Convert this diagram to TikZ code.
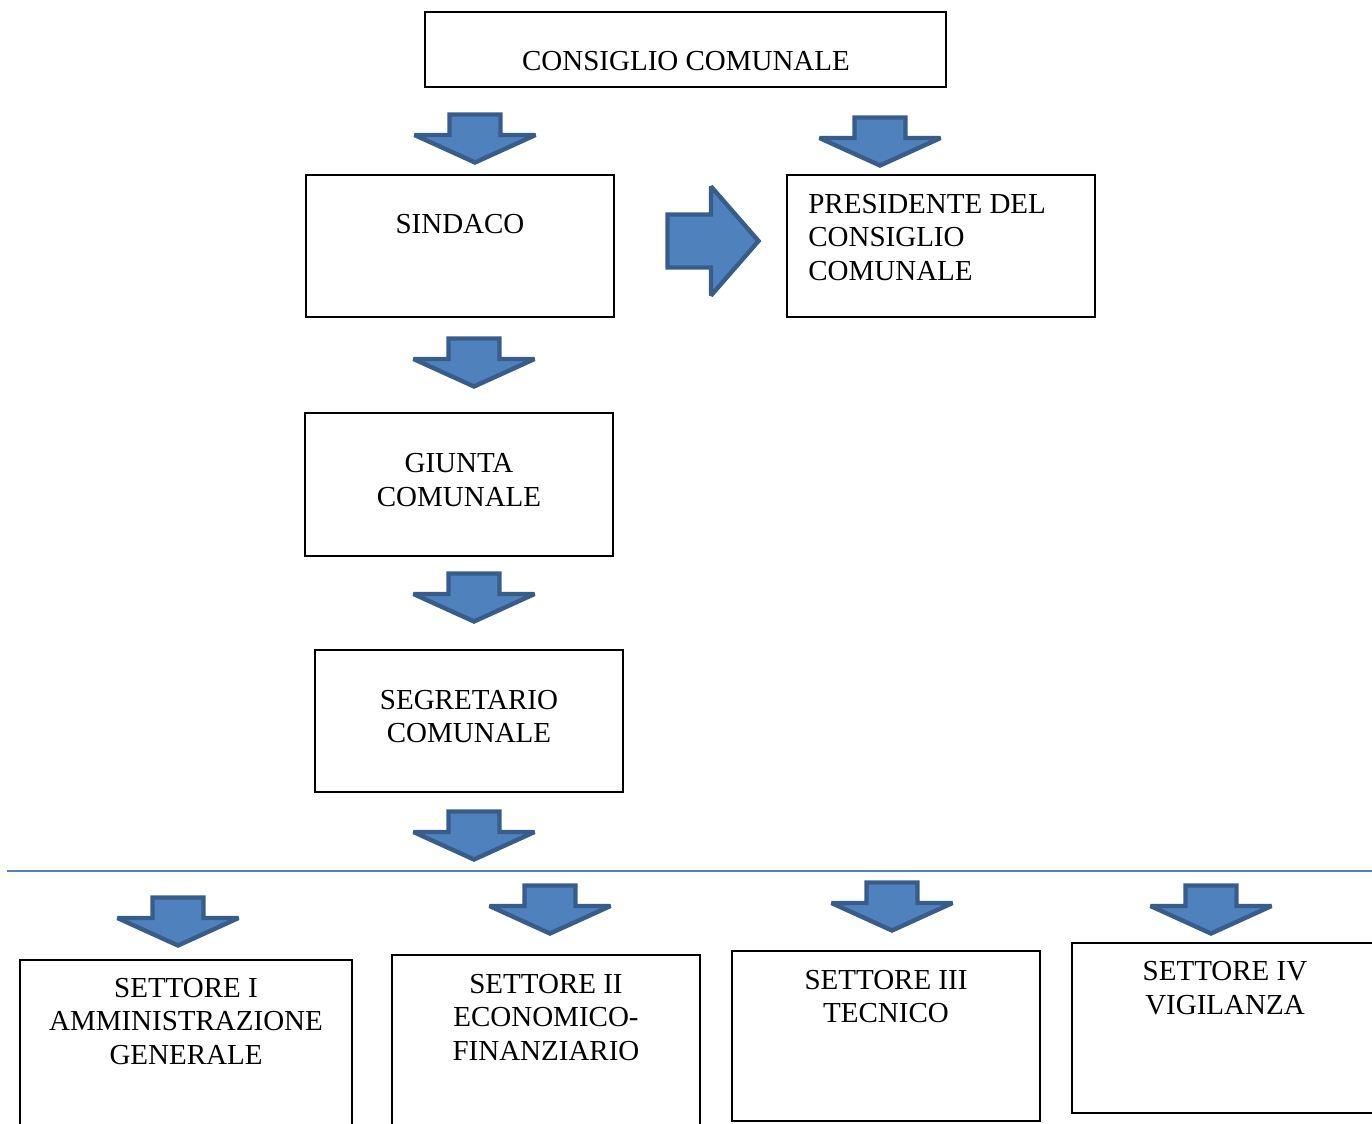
\documentclass[tikz,border=0pt]{standalone}
\usepackage{fontspec}
\setmainfont{Liberation Serif}
\definecolor{frecciablu}{RGB}{79,129,189}
\definecolor{bordoblu}{RGB}{56,93,138}
\tikzset{
  ufficio/.style={draw, line width=1pt, inner sep=0pt},
  testo/.style={inner sep=0pt, align=center, font=\fontsize{16.5}{19.3}\selectfont},
  freccia/.style={fill=frecciablu, draw=bordoblu, line width=2.5pt, miter limit=2},
  giu/.pic={\draw[freccia] (-25.5,2.5) -- (25.5,2.5) -- (25.5,23) -- (60.5,23) -- (0,50.5) -- (-60.5,23) -- (-25.5,23) -- cycle;},
  destra/.pic={\draw[freccia] (2.5,-26.5) -- (46,-26.5) -- (46,-54.5) -- (93.5,0) -- (46,54.5) -- (46,26.5) -- (2.5,26.5) -- cycle;}
}
\begin{document}
\begin{tikzpicture}[x=0.02cm, y=-0.02cm]
  \useasboundingbox (0,0) rectangle (1372,1124);
  \clip (0,0) rectangle (1372,1124);
  \node[ufficio, minimum width=10.42cm, minimum height=1.5cm] (consiglio) at (685.5,49.5) {};
  \node[testo] (t-consiglio) at (686,61.5) {CONSIGLIO COMUNALE};
  \node[ufficio, minimum width=6.16cm, minimum height=2.84cm] (sindaco) at (460,246) {};
  \node[testo] (t-sindaco) at (460,224.5) {SINDACO};
  \node[ufficio, minimum width=6.16cm, minimum height=2.84cm] (presidente) at (941,246) {};
  \node[testo, align=left, anchor=west] (t-presidente) at (808,237.5) {PRESIDENTE DEL\\CONSIGLIO\\COMUNALE};
  \node[ufficio, minimum width=6.16cm, minimum height=2.86cm] (giunta) at (459,484.5) {};
  \node[testo] (t-giunta) at (459,480.5) {GIUNTA\\COMUNALE};
  \node[ufficio, minimum width=6.16cm, minimum height=2.84cm] (segretario) at (469,721) {};
  \node[testo] (t-segretario) at (469,716.5) {SEGRETARIO\\COMUNALE};
  \coordinate (linea-sx) at (7,871);
  \coordinate (linea-dx) at (1372,871);
  \draw[frecciablu, line width=1.2pt] (linea-sx) -- (linea-dx);
  \node[ufficio, minimum width=6.64cm, minimum height=3.6cm] (settore1) at (186,1050) {};
  \node[testo] (t-settore1) at (186,1021.5) {SETTORE I\\AMMINISTRAZIONE\\GENERALE};
  \node[ufficio, minimum width=6.16cm, minimum height=3.7cm] (settore2) at (546,1047.5) {};
  \node[testo] (t-settore2) at (546,1017.5) {SETTORE II\\ECONOMICO-\\FINANZIARIO};
  \node[ufficio, minimum width=6.16cm, minimum height=3.4cm] (settore3) at (886,1036) {};
  \node[testo] (t-settore3) at (886,996.5) {SETTORE III\\TECNICO};
  \node[ufficio, minimum width=6.16cm, minimum height=3.4cm] (settore4) at (1226,1028) {};
  \node[testo] (t-settore4) at (1225,988.5) {SETTORE IV\\VIGILANZA};
  \pic at (475,112) {giu};
  \pic at (880,115) {giu};
  \pic at (665,241) {destra};
  \pic at (474,336) {giu};
  \pic at (474,571) {giu};
  \pic at (474,809) {giu};
  \pic at (178,895) {giu};
  \pic at (550,883) {giu};
  \pic at (892,880) {giu};
  \pic at (1211,883) {giu};
\end{tikzpicture}
\end{document}
